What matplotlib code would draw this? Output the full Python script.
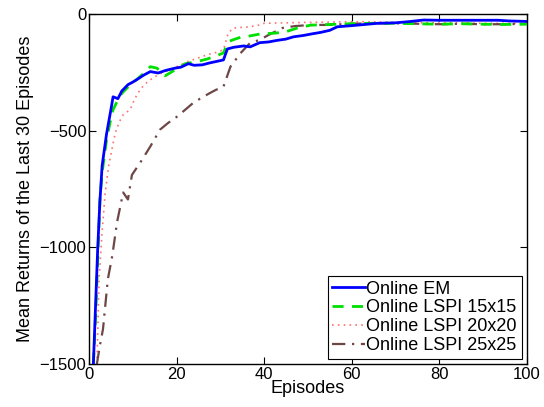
import matplotlib
matplotlib.use("Agg")
import matplotlib.pyplot as plt

plt.rcParams.update({
    "font.family": ["Liberation Sans", "DejaVu Sans"],
    "font.size": 11,
    "xtick.direction": "in",
    "ytick.direction": "in",
    "xtick.top": True,
    "ytick.right": True,
})

# Online EM
em_x = [1, 1.5, 2, 2.5, 3, 4, 5, 5.5, 6.6, 7.5, 8.9, 10, 11.2, 12.5, 14, 15.8, 17.5,
        19.7, 21, 22.7, 24, 25.9, 27.5, 29, 30.7, 31.6, 33, 35.3, 36.8, 39, 41,
        43, 44.9, 46.7, 49, 51, 52.9, 55, 56.7, 60, 63, 65.9, 70, 73, 76.4, 80,
        85, 90, 93.4, 96, 100]
em_y = [-1500, -1250, -1000, -800, -650, -515, -410, -355, -363, -330, -303, -292,
        -278, -262, -247, -253, -242, -232, -228, -213, -220, -218, -210, -204,
        -197, -150, -143, -137, -141, -123, -120, -113, -108, -98, -92, -85, -79,
        -70, -55, -50, -45, -40, -38, -33, -26, -27, -27, -27, -27, -30, -32]

# Online LSPI 15x15
g15_x = [1, 1.5, 2, 2.5, 3, 4, 4.8, 5.5, 6.6, 7.5, 8.7, 10, 11.7, 13, 14, 15.5,
         17.4, 19.7, 22, 24.5, 27, 29, 30.7, 31.8, 33, 34.6, 36.8, 39, 42.6, 45,
         47.6, 50.6, 55, 60, 65, 70, 75, 80, 85, 90, 95, 100]
g15_y = [-1500, -1300, -1050, -795, -680, -540, -466, -410, -368, -340, -317, -295,
         -268, -245, -226, -232, -265, -239, -213, -205, -193, -180, -167, -119,
         -110, -100, -94, -86, -82, -76, -60, -48, -45, -42, -40, -40, -42, -44,
         -42, -44, -45, -44]

# Online LSPI 20x20
r20_x = [1.8, 2.3, 3, 3.7, 4.5, 6, 7, 7.8, 9.4, 10.3, 11.2, 12.5, 14, 16, 18.5,
         20.5, 22.4, 25, 27, 29, 30.7, 31.8, 33, 36.8, 39, 40, 45, 50, 55, 60,
         65, 70, 75, 80, 85, 90, 95, 100]
r20_y = [-1500, -1137, -930, -766, -650, -509, -460, -432, -410, -370, -338, -305,
         -282, -258, -239, -222, -205, -188, -175, -165, -154, -81, -60, -55, -47,
         -40, -38, -36, -35, -33, -34, -36, -38, -38, -38, -40, -40, -40]

# Online LSPI 25x25
b25_x = [1.8, 2.5, 3.2, 4.3, 5.3, 6.4, 7.8, 8.9, 9.8, 11.7, 14, 16.2, 18, 20.1,
         22, 23.8, 25.8, 27.7, 29, 30.7, 32.3, 34.6, 36.8, 39, 41, 44.2, 47,
         50.6, 54.5, 60, 65, 70, 75, 80, 85, 90, 95, 100]
b25_y = [-1500, -1420, -1350, -1137, -1038, -893, -765, -795, -690, -637, -568, -496,
         -468, -440, -410, -381, -358, -338, -325, -312, -226, -168, -124, -111,
         -90, -60, -52, -47, -47, -42, -40, -40, -42, -44, -42, -44, -44, -42]

fig = plt.figure(figsize=(5.44, 4.07), dpi=100)
ax = fig.add_axes([0.1636, 0.1057, 0.805, 0.86])

ax.plot(em_x, em_y, color="#0000ff", lw=2.0, label="Online EM", zorder=4)
ax.plot(g15_x, g15_y, color="#00e000", lw=2.0, ls=(0, (4, 3)), label="Online LSPI 15x15", zorder=3)
ax.plot(r20_x, r20_y, color="#ff7070", lw=1.2, ls=(0, (1, 2.5)), label="Online LSPI 20x20", zorder=2)
ax.plot(b25_x, b25_y, color="#6e4646", lw=1.6, ls=(0, (6, 3, 1, 3)), label="Online LSPI 25x25", zorder=2)

ax.set_xlim(0, 100)
ax.set_ylim(-1500, 0)
ax.set_xticks([0, 20, 40, 60, 80, 100])
ax.set_yticks([-1500, -1000, -500, 0])
ax.tick_params(length=5, width=0.8, labelsize=12, pad=2)
for s in ax.spines.values():
    s.set_linewidth(1.0)
ax.set_xlabel("Episodes", fontsize=13, labelpad=-1)
ax.set_ylabel("Mean Returns of the Last 30 Episodes", fontsize=13, labelpad=4)

leg = ax.legend(loc="lower right", fontsize=13, fancybox=False, framealpha=1,
                edgecolor="black", borderpad=0.25, labelspacing=0.1,
                handlelength=1.8, handletextpad=0.1, borderaxespad=0.3)
leg.get_frame().set_linewidth(0.8)

fig.savefig("out.png", dpi=100)
